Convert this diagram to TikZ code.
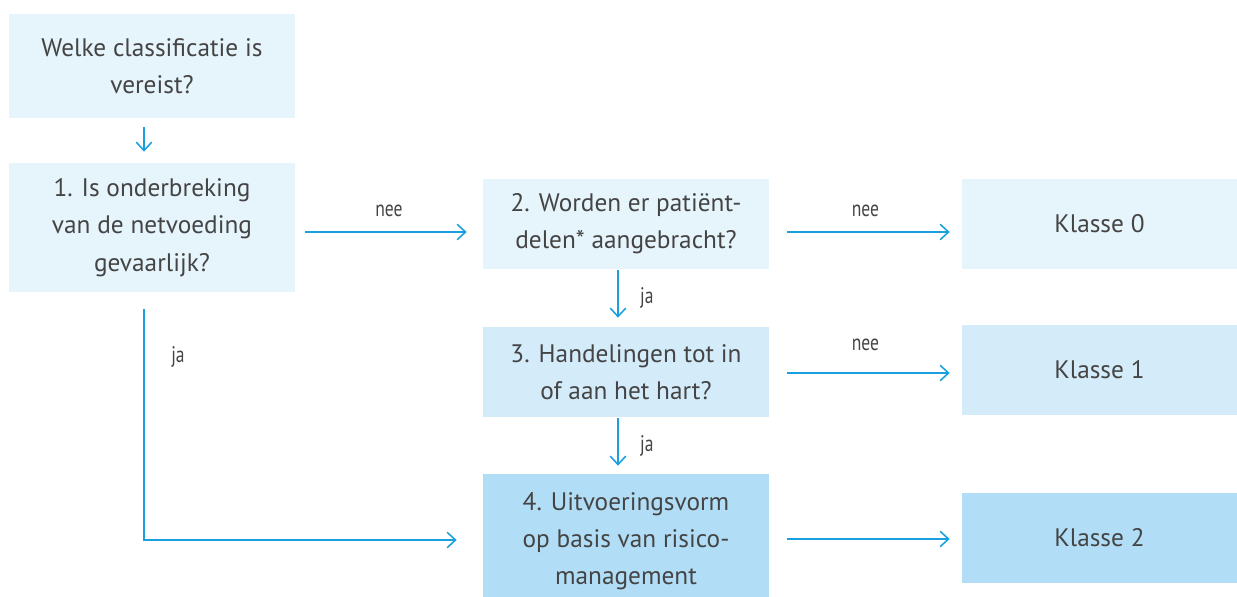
\documentclass[tikz,border=0pt]{standalone}
\usepackage{fontspec}
\setmainfont{PT Sans}
\newfontfamily\narrowfont[FakeStretch=0.78]{PT Sans}
\usetikzlibrary{arrows.meta}
\definecolor{boxlight}{HTML}{E6F4FC}
\definecolor{boxmid}{HTML}{D4EBFA}
\definecolor{boxdark}{HTML}{B1DEF6}
\definecolor{flowblue}{HTML}{1AA0E0}
\definecolor{textgray}{HTML}{444444}

\begin{document}
\begin{tikzpicture}[x=0.025cm, y=-0.025cm,
	box/.style={fill=#1, text=textgray, align=center, inner sep=0pt, minimum width=7.15cm, font=\fontsize{18}{26.5}\selectfont},
	klasse/.style={box=#1, minimum width=6.875cm, minimum height=2.25cm},
	flow/.style={draw=flowblue, line width=1.1pt, -{Straight Barb[length=6pt, width=11pt, line width=1.1pt]}},
	lbl/.style={text=textgray, font=\narrowfont\fontsize{16}{18}\selectfont, inner sep=1pt}]
	\clip (0, 0) rectangle (1237, 597);
	\node[box=boxlight, minimum height=2.6cm] (start) at (152, 66) {Welke classificatie is\\vereist?};
	\node[box=boxlight, minimum height=3.225cm] (q1) at (152, 227.5) {1. Is onderbreking\\van de netvoeding\\gevaarlijk?};
	\node[box=boxlight, minimum height=2.25cm] (q2) at (626, 224) {2. Worden er patiënt-\\delen* aangebracht?};
	\node[box=boxmid, minimum height=2.25cm] (q3) at (626, 372) {3. Handelingen tot in\\of aan het hart?};
	\node[box=boxdark, minimum height=3.35cm] (q4) at (626, 541) {4. Uitvoeringsvorm\\op basis van risico-\\management};
	\node[klasse=boxlight] (k0) at (1099.5, 224) {Klasse 0};
	\node[klasse=boxmid] (k1) at (1099.5, 370) {Klasse 1};
	\node[klasse=boxdark] (k2) at (1099.5, 538) {Klasse 2};
	\draw[flow, shorten <=0.225cm, shorten >=0.275cm] (start.south -| 144, 0) -- (q1.north -| 144, 0);
	\draw[flow, shorten <=0.25cm, shorten >=0.4cm] (q1.east |- 0, 232) -- node[lbl, midway, above=0.32cm] {nee} (q2.west |- 0, 232);
	\draw[flow, shorten <=0.45cm, shorten >=0.3cm] (q2.east |- 0, 232) -- node[lbl, midway, above=0.32cm] {nee} (k0.west |- 0, 232);
	\draw[flow, shorten <=0.45cm, shorten >=0.3cm] (q3.east |- 0, 373) -- node[lbl, midway, above=0.5cm] {nee} (k1.west |- 0, 373);
	\draw[flow, shorten <=0.45cm, shorten >=0.3cm] (q4.east |- 0, 539) -- (k2.west |- 0, 539);
	\draw[flow, shorten <=0.03cm, shorten >=0.225cm] (q2.south -| 618, 0) -- node[lbl, midway, right=0.5cm] {ja} (q3.north -| 618, 0);
	\draw[flow, shorten <=0.03cm, shorten >=0.2cm] (q3.south -| 618, 0) -- node[lbl, midway, right=0.5cm] {ja} (q4.north -| 618, 0);
	\draw[flow, shorten <=0.425cm, shorten >=0.65cm] (q1.south -| 144, 0) |- (q4.west |- 0, 540);
	\node[lbl] (ja1) at (178, 357) {ja};
\end{tikzpicture}
\end{document}
